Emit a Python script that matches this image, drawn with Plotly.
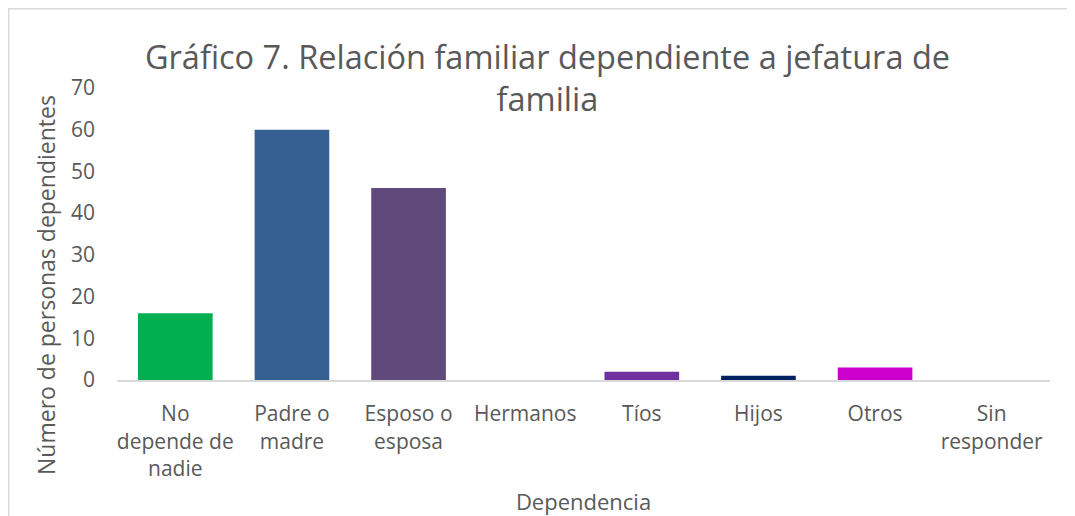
import plotly.graph_objects as go

categories = ["No<br>depende de<br>nadie", "Padre o<br>madre", "Esposo o<br>esposa", "Hermanos",
              "Tíos", "Hijos", "Otros", "Sin<br>responder"]
values = [16, 60, 46, 0, 2, 1, 3, 0]
colors = ["#00B050", "#356092", "#604A7B", "#4F81BD", "#7030A0", "#002060", "#CC00CC", "#4F81BD"]

# page has an 8px body margin, so the figure itself is 8px smaller
W, H = 1067, 508
L, R, T, B = 109, 25, 80, 136
pw, ph = W - L - R, H - T - B

def px(x):
    return (x - L) / pw

def py(y):
    return (H - B - y) / ph

fig = go.Figure(go.Bar(x=categories, y=values, marker=dict(color=colors, line=dict(width=0)),
                       hoverinfo="x+y"))

font = "Open Sans, Calibri, sans-serif"
fig.update_layout(
    width=W, height=H,
    margin=dict(l=L, r=R, t=T, b=B, autoexpand=False),
    paper_bgcolor="white", plot_bgcolor="white",
    bargap=0.36,
    showlegend=False,
    font=dict(family=font, color="#595959", size=21),
    title=dict(text="Gráfico 7. Relación familiar dependiente a jefatura de<br>familia",
               x=0.5056, xanchor="center", y=0.880, yanchor="middle",
               font=dict(size=32.5, color="#595959", family=font)),
    xaxis=dict(showline=True, linecolor="#D9D9D9", linewidth=2, ticks="",
               tickfont=dict(size=21), showgrid=False, automargin=False, ticklabelstandoff=14,
               title=dict(text="Dependencia", font=dict(size=22), standoff=14)),
    yaxis=dict(range=[0, 70], dtick=10, showgrid=False, zeroline=False, showline=False,
               tickfont=dict(size=21), ticklen=0, automargin=False, ticklabelstandoff=21),
    annotations=[
        dict(text="Número de personas dependientes", textangle=-90, showarrow=False,
             xref="paper", yref="paper", x=px(38), y=py(277), xanchor="center", yanchor="middle",
             font=dict(size=23, color="#595959", family=font)),
    ],
    shapes=[
        dict(type="line", xref="paper", yref="paper", x0=px(0), x1=px(W), y0=py(0.75), y1=py(0.75),
             line=dict(color="#D9D9D9", width=1.5)),
        dict(type="line", xref="paper", yref="paper", x0=px(0.75), x1=px(0.75), y0=py(0), y1=py(H),
             line=dict(color="#D9D9D9", width=1.5)),
    ],
)

fig.write_html("out.html")
